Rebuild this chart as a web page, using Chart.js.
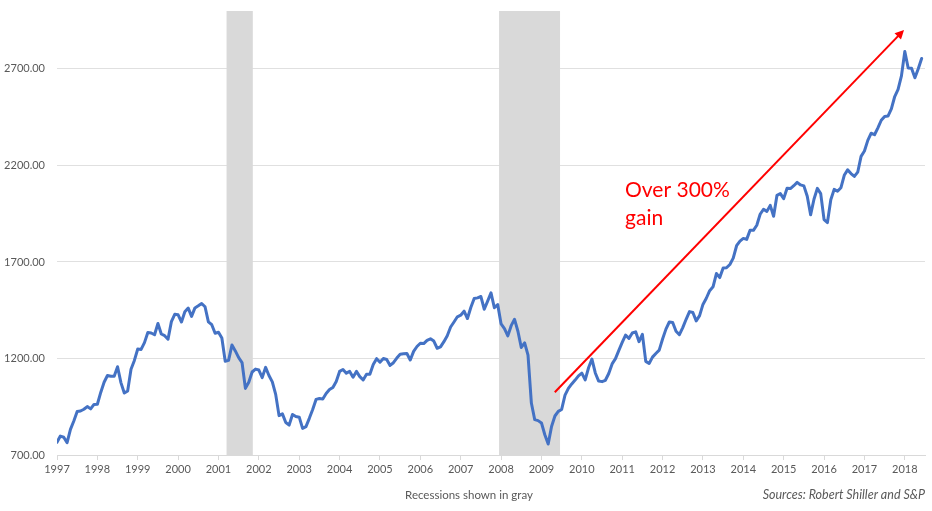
<!DOCTYPE html>
<html>
<head>
<meta charset="utf-8">
<script src="https://cdn.jsdelivr.net/npm/chart.js@4"></script>
<style>
  html, body { margin: 0; padding: 0; background: #ffffff; }
  #wrap { width: 932px; height: 511px; }
</style>
</head>
<body>
<div id="wrap"><canvas id="c" width="932" height="511"></canvas></div>
<script>
// ---- data (monthly S&P 500 composite, Jan 1997 .. Jun 2018) ----
const startYear = 1997;
const sp1997 = [766, 798, 792, 764, 833, 876, 925, 928, 937, 951, 939, 962];
const sp1998 = [963, 1024, 1077, 1112, 1108, 1108, 1157, 1075, 1021, 1032, 1144, 1190];
const sp1999 = [1249, 1247, 1282, 1335, 1332, 1323, 1381, 1327, 1318, 1300, 1391, 1429];
const sp2000 = [1426, 1389, 1442, 1461, 1418, 1462, 1473, 1485, 1468, 1390, 1375, 1331];
const sp2001 = [1336, 1306, 1186, 1190, 1270, 1239, 1204, 1179, 1045, 1077, 1130, 1145];
const sp2002 = [1140, 1101, 1154, 1112, 1079, 1014, 904, 913, 868, 855, 910, 899];
const sp2003 = [896, 838, 847, 890, 936, 988, 993, 990, 1019, 1039, 1050, 1081];
const sp2004 = [1133, 1143, 1124, 1133, 1103, 1133, 1106, 1089, 1118, 1118, 1169, 1199];
const sp2005 = [1181, 1200, 1195, 1164, 1178, 1202, 1222, 1224, 1226, 1192, 1237, 1262];
const sp2006 = [1279, 1277, 1294, 1302, 1290, 1253, 1260, 1287, 1318, 1363, 1389, 1416];
const sp2007 = [1424, 1445, 1407, 1464, 1511, 1514, 1521, 1455, 1497, 1540, 1463, 1479];
const sp2008 = [1379, 1355, 1317, 1370, 1403, 1341, 1257, 1281, 1217, 969, 883, 878];
const sp2009 = [866, 805, 757, 848, 902, 926, 936, 1010, 1045, 1068, 1088, 1110];
const sp2010 = [1124, 1089, 1152, 1197, 1125, 1083, 1080, 1087, 1122, 1172, 1199, 1242];
const sp2011 = [1283, 1321, 1304, 1332, 1338, 1287, 1325, 1185, 1174, 1207, 1226, 1243];
const sp2012 = [1301, 1352, 1389, 1386, 1341, 1323, 1360, 1403, 1443, 1438, 1395, 1422];
const sp2013 = [1480, 1512, 1551, 1571, 1640, 1619, 1669, 1670, 1687, 1720, 1784, 1808];
const sp2014 = [1822, 1817, 1864, 1864, 1890, 1947, 1973, 1962, 1993, 1937, 2045, 2054];
const sp2015 = [2028, 2082, 2080, 2095, 2112, 2099, 2094, 2040, 1944, 2025, 2081, 2054];
const sp2016 = [1919, 1904, 2022, 2076, 2066, 2084, 2149, 2177, 2158, 2143, 2165, 2247];
const sp2017 = [2275, 2330, 2367, 2359, 2395, 2434, 2454, 2456, 2493, 2557, 2594, 2664];
const sp2018 = [2790, 2705, 2703, 2654, 2701, 2754];

const xTickLabels = ['1997','1998','1999','2000','2001','2002','2003','2004','2005','2006','2007',
                     '2008','2009','2010','2011','2012','2013','2014','2015','2016','2017','2018'];
const yTickValues = [700, 1200, 1700, 2200, 2700];
const recessions = [[2001.2, 2001.85], [2007.95, 2009.46]];
const arrowFrom = [2009.33, 1025];
const arrowTo = [2017.98, 2902];
const gainText = ['Over 300%', 'gain'];
const gainAt = [2011.07, 2035];
const noteText = 'Recessions shown in gray';
const sourceText = 'Sources: Robert Shiller and S&P';

const monthly = [].concat(sp1997, sp1998, sp1999, sp2000, sp2001, sp2002, sp2003, sp2004,
  sp2005, sp2006, sp2007, sp2008, sp2009, sp2010, sp2011, sp2012, sp2013, sp2014,
  sp2015, sp2016, sp2017, sp2018);
const points = monthly.map((v, i) => ({ x: startYear + i / 12, y: v }));

const FONT = 'Lato, "Liberation Sans", sans-serif';
const GREY_TEXT = '#595959';

const bandsPlugin = {
  id: 'bands',
  beforeDatasetsDraw(chart) {
    const { ctx, chartArea: a, scales: { x } } = chart;
    ctx.save();
    ctx.fillStyle = '#d9d9d9';
    recessions.forEach(([s, e]) => {
      const x0 = x.getPixelForValue(s), x1 = x.getPixelForValue(e);
      ctx.fillRect(x0, a.top, x1 - x0, a.bottom - a.top);
    });
    ctx.restore();
  }
};

const annotPlugin = {
  id: 'annot',
  afterDatasetsDraw(chart) {
    const { ctx, scales: { x, y } } = chart;
    const x0 = x.getPixelForValue(arrowFrom[0]), y0 = y.getPixelForValue(arrowFrom[1]);
    const x1 = x.getPixelForValue(arrowTo[0]), y1 = y.getPixelForValue(arrowTo[1]);
    const ang = Math.atan2(y1 - y0, x1 - x0);
    const hl = 9, hw = 4.5;
    ctx.save();
    ctx.strokeStyle = '#ff0000';
    ctx.fillStyle = '#ff0000';
    ctx.lineWidth = 2;
    ctx.beginPath();
    ctx.moveTo(x0, y0);
    ctx.lineTo(x1 - Math.cos(ang) * hl * 0.8, y1 - Math.sin(ang) * hl * 0.8);
    ctx.stroke();
    ctx.beginPath();
    ctx.moveTo(x1, y1);
    ctx.lineTo(x1 - Math.cos(ang) * hl + Math.sin(ang) * hw, y1 - Math.sin(ang) * hl - Math.cos(ang) * hw);
    ctx.lineTo(x1 - Math.cos(ang) * hl - Math.sin(ang) * hw, y1 - Math.sin(ang) * hl + Math.cos(ang) * hw);
    ctx.closePath();
    ctx.fill();

    const tx = x.getPixelForValue(gainAt[0]), ty = y.getPixelForValue(gainAt[1]);
    ctx.font = '21px ' + FONT;
    ctx.textAlign = 'left';
    ctx.textBaseline = 'alphabetic';
    gainText.forEach((t, i) => ctx.fillText(t, tx, ty + i * 28));
    ctx.restore();
  },
  afterDraw(chart) {
    const { ctx, width, chartArea: a } = chart;
    ctx.save();
    ctx.fillStyle = GREY_TEXT;
    ctx.textBaseline = 'middle';
    ctx.font = '11.5px ' + FONT;
    ctx.textAlign = 'center';
    ctx.fillText(noteText, width / 2 + 3, 495);
    ctx.font = 'italic 12.5px ' + FONT;
    ctx.textAlign = 'right';
    ctx.fillText(sourceText, a.right, 495);
    ctx.restore();
  }
};

new Chart(document.getElementById('c'), {
  type: 'line',
  data: {
    datasets: [{
      data: points,
      borderColor: '#4472C4',
      borderWidth: 3,
      pointRadius: 0,
      tension: 0,
      borderJoinStyle: 'round',
      borderCapStyle: 'round',
      fill: false
    }]
  },
  options: {
    responsive: false,
    animation: false,
    devicePixelRatio: 1,
    layout: { padding: { top: 11, right: 7, left: 0, bottom: 0 } },
    plugins: { legend: { display: false }, tooltip: { enabled: false }, title: { display: false } },
    scales: {
      x: {
        type: 'linear',
        min: startYear,
        max: 2018.5,
        afterBuildTicks(s) { s.ticks = xTickLabels.map(l => ({ value: Number(l) })); },
        afterFit(s) { s.height = 56; s.paddingLeft = 0; s.paddingRight = 0; },
        ticks: {
          autoSkip: false,
          maxRotation: 0,
          padding: 3,
          color: GREY_TEXT,
          font: { family: FONT, size: 11 },
          callback: (v, i) => xTickLabels[i]
        },
        grid: { drawOnChartArea: false, drawTicks: true, tickLength: 5, color: '#d9d9d9' },
        border: { display: true, color: '#d9d9d9', width: 1 }
      },
      y: {
        min: 700,
        max: 3000,
        afterBuildTicks(s) { s.ticks = yTickValues.map(v => ({ value: v })); },
        afterFit(s) { s.width = 57; s.paddingTop = 0; s.paddingBottom = 0; },
        ticks: {
          padding: 12,
          color: GREY_TEXT,
          font: { family: FONT, size: 11 },
          callback: v => Number(v).toFixed(2)
        },
        grid: { drawTicks: false, color: '#e0e0e0', lineWidth: 1 },
        border: { display: false }
      }
    }
  },
  plugins: [bandsPlugin, annotPlugin]
});
</script>
</body>
</html>
